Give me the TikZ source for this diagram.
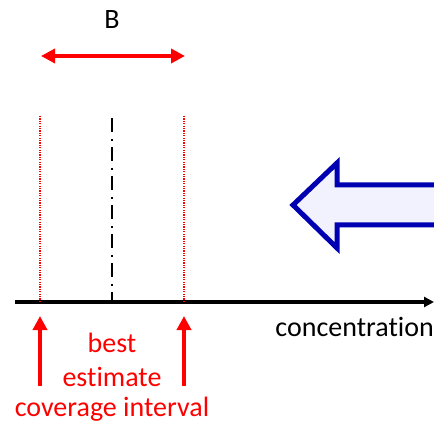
\documentclass[tikz,border=0pt]{standalone}
\usepackage{fontspec}
\setmainfont[Ligatures=NoCommon]{Carlito}
\usetikzlibrary{arrows.meta}
\begin{document}
\begin{tikzpicture}[
    x=1pt, y=-1pt,
    txt/.style={
        inner sep=0pt,
        font=\fontsize{28}{30}\selectfont
    },
    redtxt/.style={
        txt,
        text=red
    },
    bound/.style={
        draw=red,
        line width=1.2pt,
        dash pattern=on 1.2pt off 1.2pt
    },
    centre/.style={
        draw=black,
        line width=2.2pt,
        dash pattern=on 14pt off 7pt on 2pt off 6pt
    },
    pointer/.style={
        draw=red,
        line width=3.5pt,
        -{Triangle[length=14pt,width=14pt]}
    },
    axis/.style={
        draw=black,
        line width=3.2pt,
        -{Triangle[length=10pt,width=10pt]}
    }
]
\useasboundingbox (0,0) rectangle (434,422);

% Achse
\coordinate (a0) at (15,302);
\coordinate (a1) at (434,302);
\draw[axis] (a0) -- (a1);

% Intervall
\coordinate (lo) at (40,116);
\coordinate (lob) at (40,302);
\coordinate (hi) at (184,116);
\coordinate (hib) at (184,302);
\coordinate (m) at (112,118);
\coordinate (mb) at (112,302);
\draw[bound] (lo) -- (lob);
\draw[bound] (hi) -- (hib);
\draw[centre] (m) -- (mb);

% Breite B
\node[txt] (B) at (112,20) {B};
\coordinate (bl) at (41,56);
\coordinate (br) at (185,56);
\draw[draw=red, line width=3.5pt,
      {Triangle[length=14pt,width=14pt]}-{Triangle[length=14pt,width=14pt]}]
    (bl) -- (br);

% Pfeile unten
\coordinate (p1) at (40,386);
\coordinate (q1) at (40,316);
\coordinate (p2) at (184,386);
\coordinate (q2) at (184,316);
\draw[pointer] (p1) -- (q1);
\draw[pointer] (p2) -- (q2);

% Beschriftung
\node[redtxt] (best) at (112,343) {best};
\node[redtxt] (est) at (112,377) {estimate};
\node[redtxt] (cov) at (112,409) {coverage interval};
\node[txt, anchor=east] (conc) at (434,327) {concentration};

% Blauer Pfeil
\fill[blue!5] (436,185) -- (337,185) -- (337,163) -- (293,205)
    -- (337,248) -- (337,225) -- (436,225) -- cycle;
\draw[draw=blue!70!black, line width=5pt, line join=miter]
    (436,185) -- (337,185) -- (337,163) -- (293,205)
    -- (337,248) -- (337,225) -- (436,225);

\end{tikzpicture}
\end{document}
